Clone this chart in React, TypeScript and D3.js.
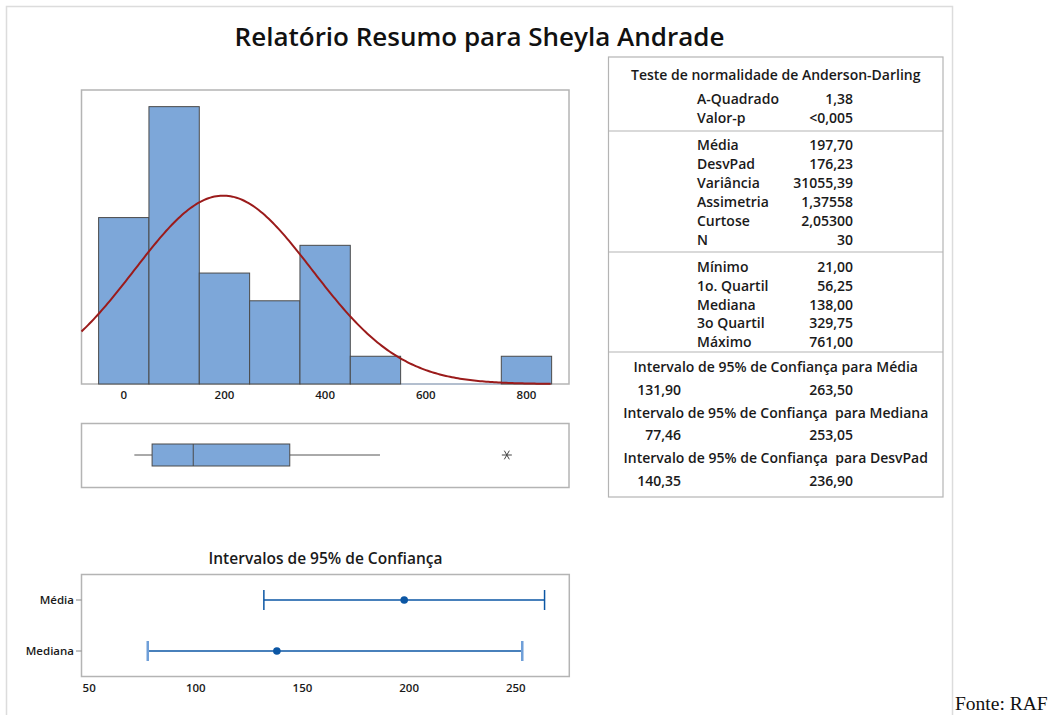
import React from "react";
import * as d3 from "d3";

// ---------- DATA ----------
const binEdges = [-50, 50, 150, 250, 350, 450, 550, 650, 750, 850];
const binCounts = [6, 10, 4, 3, 5, 1, 0, 0, 1];
const histTicks = [0, 200, 400, 600, 800];
const sampleN = 30;
const sampleMean = 197.7;
const sampleSd = 176.23;

const boxMin = 21;
const boxQ1 = 56.25;
const boxMedian = 138;
const boxQ3 = 329.75;
const boxWhiskerHigh = 509;
const boxOutliers = [761];

const adLabels = ["A-Quadrado", "Valor-p"];
const adValues = ["1,38", "<0,005"];
const descLabels = ["Média", "DesvPad", "Variância", "Assimetria", "Curtose", "N"];
const descValues = ["197,70", "176,23", "31055,39", "1,37558", "2,05300", "30"];
const quartLabels = ["Mínimo", "1o. Quartil", "Mediana", "3o Quartil", "Máximo"];
const quartValues = ["21,00", "56,25", "138,00", "329,75", "761,00"];
const ciTitles = [
  "Intervalo de 95% de Confiança para Média",
  "Intervalo de 95% de Confiança  para Mediana",
  "Intervalo de 95% de Confiança  para DesvPad",
];
const ciLowText = ["131,90", "77,46", "140,35"];
const ciHighText = ["263,50", "253,05", "236,90"];

const ciRows = ["Média", "Mediana"];
const ciEstimate = [197.7, 138.0];
const ciLow = [131.9, 77.46];
const ciHigh = [263.5, 253.05];
const ciTicks = [50, 100, 150, 200, 250];

// ---------- STYLE ----------
const FONT = "'Open Sans', 'Noto Sans', sans-serif";
const BAR_FILL = "#7da7d9";
const BAR_STROKE = "#4a4a4a";
const FRAME = "#b4b4b4";
const CURVE = "#9b1b1b";
const CI_BLUE = "#0b56a4";
const CI_LIGHT = "#6f9fd8";

export default function App() {
  // histogram
  const hx = d3.scaleLinear().domain([-84, 884.5]).range([81.5, 569]);
  const hy = d3.scaleLinear().domain([0, 10.6]).range([384, 90]);
  const bins = binCounts.map((c, i) => ({ x0: binEdges[i], x1: binEdges[i + 1], c }));
  const scale = sampleN * (binEdges[1] - binEdges[0]);
  const pdf = (x: number) =>
    (scale / (sampleSd * Math.sqrt(2 * Math.PI))) *
    Math.exp(-0.5 * Math.pow((x - sampleMean) / sampleSd, 2));
  const curvePts = d3.range(-84, 850.001, 4).map((x) => [x, pdf(x)] as [number, number]);
  const line = d3
    .line<[number, number]>()
    .x((d) => hx(d[0]))
    .y((d) => hy(d[1]));

  // boxplot
  const boxCy = 455;
  const boxH = 22;

  // CI plot
  const cx = d3.scaleLinear().domain([46.4, 275.1]).range([81.5, 569.3]);
  const cy = d3.scalePoint<string>().domain(ciRows).range([600, 651]);

  // table layout
  const tL = 608.5,
    tR = 943,
    tT = 57,
    tB = 497;
  const tCx = (tL + tR) / 2;
  const labX = 697;
  const valX = 853;
  const lowX = 681;

  const ts = { fontFamily: FONT, fontWeight: 600, fontSize: 14, fill: "#1a1a1a" } as const;

  const asterisk = (x: number, y: number) => {
    const r = 5;
    const a = Math.PI / 3;
    return `M${x - r},${y}L${x + r},${y}M${x - r * Math.cos(a)},${y - r * Math.sin(a)}L${x + r * Math.cos(a)},${y + r * Math.sin(a)}M${x + r * Math.cos(a)},${y - r * Math.sin(a)}L${x - r * Math.cos(a)},${y + r * Math.sin(a)}`;
  };

  return (
    <svg
      width={1062}
      height={715}
      style={{ position: "absolute", left: 0, top: 0, background: "#fff" }}
    >
      <rect x={0} y={0} width={1062} height={715} fill="#fff" />
      {/* outer border */}
      <rect x={6.5} y={6.5} width={946} height={730} fill="none" stroke="#dcdcdc" strokeWidth={1.5} />

      {/* title */}
      <text x={479.5} y={37} dy="0.35em" textAnchor="middle" style={{ ...ts, fontSize: 26, fill: "#111" }}>
        Relatório Resumo para Sheyla Andrade
      </text>

      {/* histogram */}
      <rect x={81.5} y={90} width={569 - 81.5} height={294} fill="none" stroke={FRAME} strokeWidth={1.5} />
      <line x1={hx(550)} x2={hx(750)} y1={384} y2={384} stroke="#9fb6d6" strokeWidth={1} />
      {bins
        .filter((b) => b.c > 0)
        .map((b, i) => (
          <rect
            key={i}
            x={hx(b.x0)}
            y={hy(b.c)}
            width={hx(b.x1) - hx(b.x0)}
            height={hy(0) - hy(b.c)}
            fill={BAR_FILL}
            stroke={BAR_STROKE}
            strokeWidth={1}
          />
        ))}
      <path d={line(curvePts) || ""} fill="none" stroke={CURVE} strokeWidth={2} />
      {histTicks.map((t) => (
        <text key={t} x={hx(t)} y={395} dy="0.35em" textAnchor="middle" style={{ ...ts, fontSize: 11.5 }}>
          {t}
        </text>
      ))}

      {/* boxplot */}
      <rect x={81.5} y={423.5} width={569 - 81.5} height={64} fill="none" stroke={FRAME} strokeWidth={1.5} />
      <line x1={hx(boxMin)} x2={hx(boxQ1)} y1={boxCy} y2={boxCy} stroke="#555" strokeWidth={1} />
      <line x1={hx(boxQ3)} x2={hx(boxWhiskerHigh)} y1={boxCy} y2={boxCy} stroke="#555" strokeWidth={1} />
      <rect
        x={hx(boxQ1)}
        y={boxCy - boxH / 2}
        width={hx(boxQ3) - hx(boxQ1)}
        height={boxH}
        fill={BAR_FILL}
        stroke={BAR_STROKE}
        strokeWidth={1}
      />
      <line x1={hx(boxMedian)} x2={hx(boxMedian)} y1={boxCy - boxH / 2} y2={boxCy + boxH / 2} stroke={BAR_STROKE} strokeWidth={1} />
      {boxOutliers.map((o) => (
        <path key={o} d={asterisk(hx(o), boxCy)} stroke="#444" strokeWidth={1} fill="none" />
      ))}

      {/* CI plot */}
      <text x={325.5} y={559} dy="0.35em" textAnchor="middle" style={{ ...ts, fontSize: 15.5 }}>
        Intervalos de 95% de Confiança
      </text>
      <rect x={81.5} y={574.5} width={569.3 - 81.5} height={102} fill="none" stroke={FRAME} strokeWidth={1.5} />
      {ciRows.map((r, i) => {
        const y = cy(r) as number;
        const capColor = i === 0 ? CI_BLUE : CI_LIGHT;
        const capW = i === 0 ? 1.5 : 2.5;
        return (
          <g key={r}>
            <line x1={76} x2={81.5} y1={y} y2={y} stroke="#888" strokeWidth={1} />
            <text x={74} y={y} dy="0.35em" textAnchor="end" style={{ ...ts, fontSize: 11.5 }}>
              {r}
            </text>
            <line x1={cx(ciLow[i])} x2={cx(ciHigh[i])} y1={y} y2={y} stroke={CI_BLUE} strokeWidth={1.5} />
            <line x1={cx(ciLow[i])} x2={cx(ciLow[i])} y1={y - 10} y2={y + 10} stroke={capColor} strokeWidth={capW} />
            <line x1={cx(ciHigh[i])} x2={cx(ciHigh[i])} y1={y - 10} y2={y + 10} stroke={capColor} strokeWidth={capW} />
            <circle cx={cx(ciEstimate[i])} cy={y} r={3.8} fill={CI_BLUE} />
          </g>
        );
      })}
      {ciTicks.map((t) => (
        <text key={t} x={cx(t)} y={688} dy="0.35em" textAnchor="middle" style={{ ...ts, fontSize: 11.5 }}>
          {t}
        </text>
      ))}

      {/* table */}
      <rect x={tL} y={tT} width={tR - tL} height={tB - tT} fill="none" stroke={FRAME} strokeWidth={1.2} />
      <line x1={tL} x2={tR} y1={131} y2={131} stroke={FRAME} strokeWidth={1.2} />
      <line x1={tL} x2={tR} y1={252} y2={252} stroke={FRAME} strokeWidth={1.2} />
      <line x1={tL} x2={tR} y1={352} y2={352} stroke={FRAME} strokeWidth={1.2} />
      <text x={tCx} y={75} dy="0.35em" textAnchor="middle" style={ts}>
        Teste de normalidade de Anderson-Darling
      </text>
      {adLabels.map((l, i) => (
        <g key={l}>
          <text x={labX} y={99 + i * 19.5} dy="0.35em" style={ts}>{l}</text>
          <text x={valX} y={99 + i * 19.5} dy="0.35em" textAnchor="end" style={ts}>{adValues[i]}</text>
        </g>
      ))}
      {descLabels.map((l, i) => (
        <g key={l}>
          <text x={labX} y={145 + i * 19} dy="0.35em" style={ts}>{l}</text>
          <text x={valX} y={145 + i * 19} dy="0.35em" textAnchor="end" style={ts}>{descValues[i]}</text>
        </g>
      ))}
      {quartLabels.map((l, i) => (
        <g key={l}>
          <text x={labX} y={267.5 + i * 18.6} dy="0.35em" style={ts}>{l}</text>
          <text x={valX} y={267.5 + i * 18.6} dy="0.35em" textAnchor="end" style={ts}>{quartValues[i]}</text>
        </g>
      ))}
      {ciTitles.map((t, i) => (
        <g key={t}>
          <text x={tCx} y={367 + i * 45.6} dy="0.35em" textAnchor="middle" style={{ ...ts, whiteSpace: "pre" }}>
            {t}
          </text>
          <text x={lowX} y={390 + i * 45.5} dy="0.35em" textAnchor="end" style={ts}>{ciLowText[i]}</text>
          <text x={valX} y={390 + i * 45.5} dy="0.35em" textAnchor="end" style={ts}>{ciHighText[i]}</text>
        </g>
      ))}

      {/* source */}
      <text x={955} y={710} style={{ fontFamily: "'Liberation Serif', 'Times New Roman', serif", fontSize: 19.5, fill: "#111" }}>
        Fonte: RAF
      </text>
    </svg>
  );
}
